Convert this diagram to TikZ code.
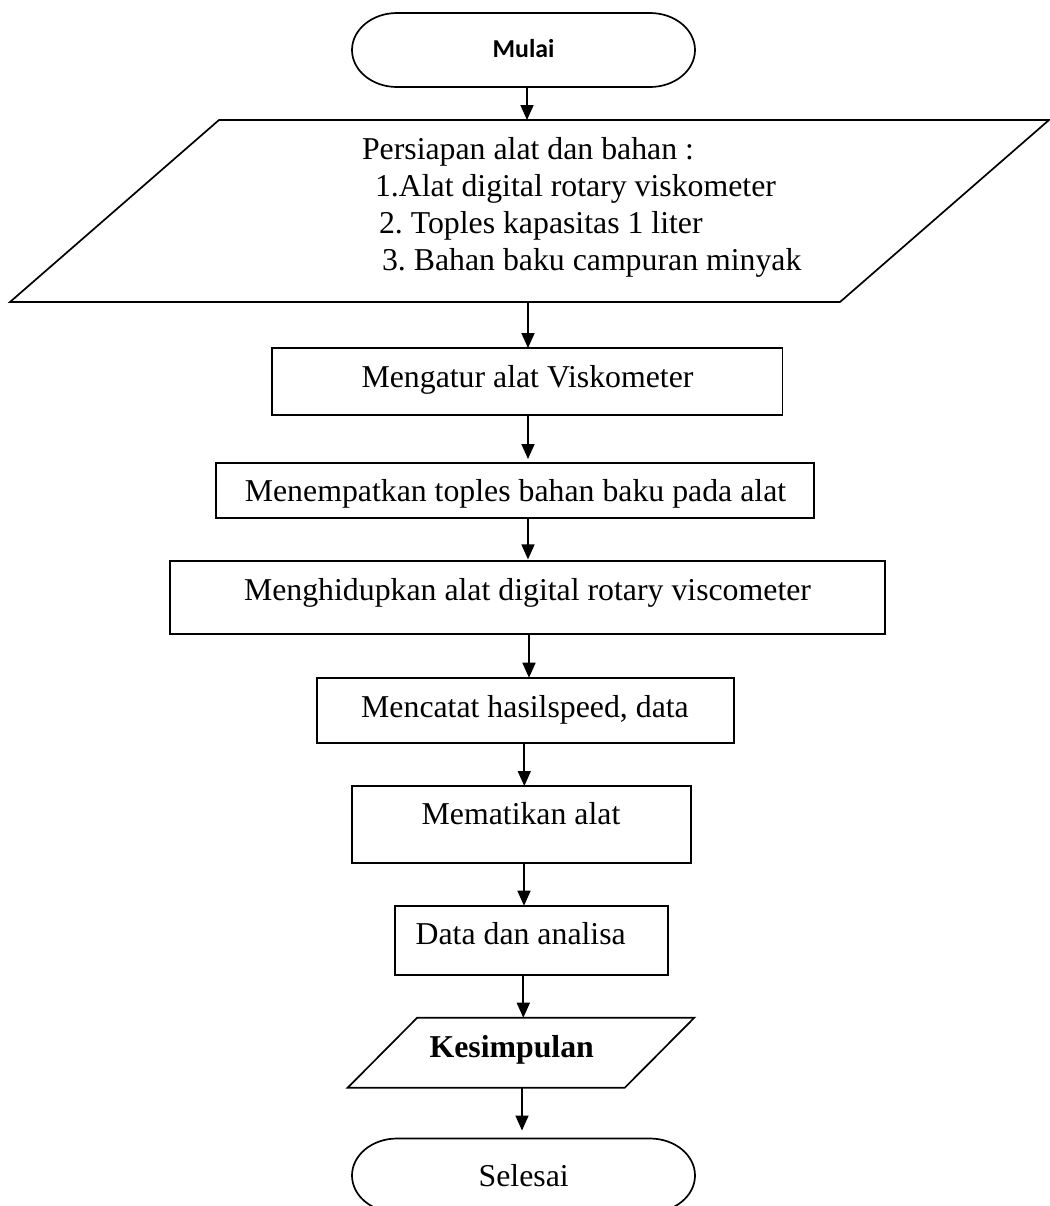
\documentclass[tikz,border=0pt]{standalone}
\usepackage{fontspec}
\setmainfont{Liberation Serif}
\newfontfamily\calibri{Carlito}
\usetikzlibrary{arrows.meta}
\frenchspacing
\tikzset{
  line/.style={draw=black, line width=0.85pt},
  frame/.style={inner sep=0pt, outer sep=0pt, draw=none},
  boxnode/.style={line, inner sep=0pt, outer sep=0pt, rectangle},
  txt/.style={inner sep=0pt, outer sep=0pt, font=\fontsize{15.9pt}{18.5pt}\selectfont\frenchspacing},
  arr/.style={line, -{Triangle[length=7.5pt,width=6.5pt]}},
}
\begin{document}
\begin{tikzpicture}[x=0.5pt,y=-0.5pt]
\useasboundingbox (0,0) rectangle (1050,1206);
\fill[white] (0,0) rectangle (1050,1206);

% Mulai terminal
\node[frame, minimum width=171.5pt, minimum height=37pt] (m) at (523.5,50) {};
\draw[line] ([xshift=22.5pt]m.north west) -- ([xshift=-22.5pt]m.north east)
  arc[start angle=90,end angle=-90,x radius=22.5pt,y radius=18.5pt]
  -- ([xshift=22.5pt]m.south west)
  arc[start angle=270,end angle=90,x radius=22.5pt,y radius=18.5pt] -- cycle;
\node[inner sep=0pt, anchor=base, font=\calibri\bfseries\fontsize{12.9pt}{15pt}\selectfont] (tm) at (523.5,57.3) {Mulai};

% Input parallelogram
\node[frame, minimum width=519.5pt, minimum height=91pt] (p) at (529.5,211) {};
\draw[line] ([xshift=104.5pt]p.north west) -- (p.north east)
  -- ([xshift=-104.5pt]p.south east) -- (p.south west) -- cycle;
\node[txt, anchor=base west] (l1) at (362,159.3) {Persiapan alat dan bahan :};
\node[txt, anchor=base west] (l2) at (375,196.7) {1.Alat digital rotary viskometer};
\node[txt, anchor=base west] (l3) at (379,233.3) {2. Toples kapasitas 1 liter};
\node[txt, anchor=base west] (l4) at (382,270) {3. Bahan baku campuran minyak};

% Process boxes
\node[boxnode, minimum width=255.25pt, minimum height=33.5pt] (b1) at (527.25,381.5) {};
\node[txt, anchor=base] (t1) at (527.5,387) {Mengatur alat Viskometer};

\node[boxnode, minimum width=299pt, minimum height=27.5pt] (b2) at (515,490.5) {};
\node[txt, anchor=base] (t2) at (515.5,501) {Menempatkan toples bahan baku pada alat};

\node[boxnode, minimum width=357.5pt, minimum height=36.5pt] (b3) at (527.5,597.5) {};
\node[txt, anchor=base] (t3) at (527.5,600) {Menghidupkan alat digital rotary viscometer};

\node[boxnode, minimum width=208.5pt, minimum height=32.8pt] (b4) at (525.5,710.5) {};
\node[txt, anchor=base] (t4) at (525,717.3) {Mencatat hasilspeed, data};

\node[boxnode, minimum width=169.5pt, minimum height=38.35pt] (b5) at (521.2,824.35) {};
\node[txt, anchor=base] (t5) at (521,824) {Mematikan alat};

\node[boxnode, minimum width=136.5pt, minimum height=34.65pt] (b6) at (531.5,940.35) {};
\node[txt, anchor=base] (t6) at (520.7,944) {Data dan analisa};

% Output parallelogram
\node[frame, minimum width=173.3pt, minimum height=35pt] (k) at (521,1052.7) {};
\draw[line] ([xshift=34.75pt]k.north west) -- (k.north east)
  -- ([xshift=-34.75pt]k.south east) -- (k.south west) -- cycle;
\node[txt, anchor=base, font=\bfseries\fontsize{15.9pt}{18.5pt}\selectfont] (tk) at (511.7,1057.7) {Kesimpulan};

% Selesai terminal
\node[frame, minimum width=171.5pt, minimum height=37pt] (s) at (523.5,1175.5) {};
\draw[line] ([xshift=22.5pt]s.north west) -- ([xshift=-22.5pt]s.north east)
  arc[start angle=90,end angle=-90,x radius=22.5pt,y radius=18.5pt]
  -- ([xshift=22.5pt]s.south west)
  arc[start angle=270,end angle=90,x radius=22.5pt,y radius=18.5pt] -- cycle;
\node[txt, anchor=base] (ts) at (523.7,1186.7) {Selesai};

% Connectors
\draw[arr] ([xshift=1.75pt]m.south) -- ([xshift=-1.25pt]p.north);
\draw[arr] ([xshift=-0.75pt]p.south) -- ([xshift=0.375pt]b1.north);
\draw[arr, shorten >=2pt] ([xshift=0.375pt]b1.south) -- ([xshift=6.5pt]b2.north);
\draw[arr, shorten >=0.8pt] ([xshift=6.5pt]b2.south) -- ([xshift=0.25pt]b3.north);
\draw[arr] ([xshift=0.75pt]b3.south) -- ([xshift=1.75pt]b4.north);
\draw[arr] ([xshift=-0.6pt]b4.south) -- ([xshift=1.55pt]b5.north);
\draw[arr] ([xshift=1.4pt]b5.south) -- ([xshift=-3.75pt]b6.north);
\draw[arr] ([xshift=-4.1pt]b6.south) -- ([xshift=1.15pt]k.north);
\draw[arr, shorten >=4pt] ([xshift=0.5pt]k.south) -- ([xshift=-0.75pt]s.north);
\end{tikzpicture}
\end{document}
